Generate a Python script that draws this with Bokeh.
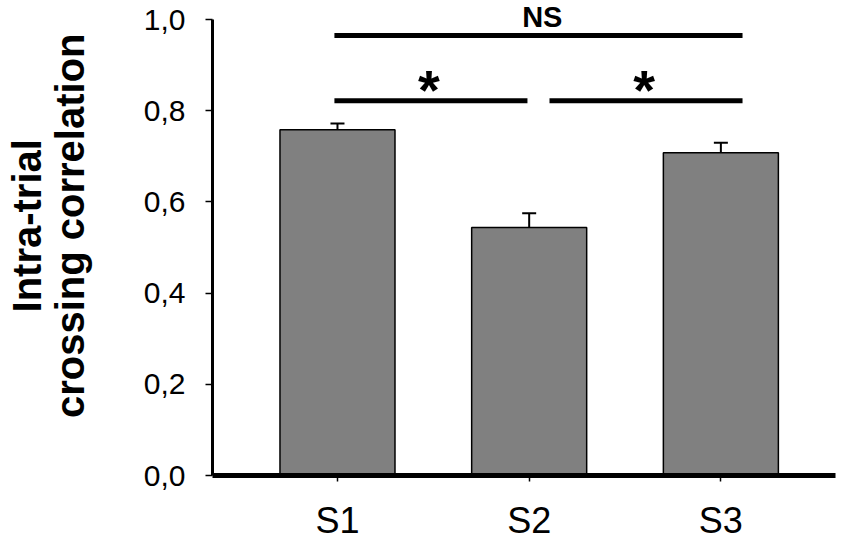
from bokeh.plotting import figure
from bokeh.layouts import row
from bokeh.models import Range1d, FixedTicker, CustomJSTickFormatter, Whisker, TeeHead, ColumnDataSource, Label
from bokeh.embed import file_html
from bokeh.resources import INLINE

categories = ["S1", "S2", "S3"]
means = [0.758, 0.544, 0.708]
sems = [0.014, 0.031, 0.022]
y_ticks = [0.0, 0.2, 0.4, 0.6, 0.8, 1.0]
y_title_lines = ["Intra-trial", "crossing correlation"]

# significance annotations: (from category index, to category index, label)
sig_pairs = [(0, 2, "NS"), (0, 1, "*"), (1, 2, "*")]

xs = [i + 1 for i in range(len(categories))]
uppers = [m + s for m, s in zip(means, sems)]

FONT = "Liberation Sans"
TITLE_W = 110
TOTAL_W, TOTAL_H = 850, 544

# ---- left strip holding the two-line y-axis title ----
pt = figure(width=TITLE_W, height=TOTAL_H, output_backend="svg", toolbar_location=None,
            x_range=Range1d(0, TITLE_W), y_range=Range1d(TOTAL_H, 0),
            x_axis_location=None, y_axis_location=None, min_border=0)
pt.outline_line_color = None
pt.grid.visible = False
for txt, xc in zip(y_title_lines, [26, 69]):
    pt.add_layout(Label(x=xc, y=258, text=txt,
                        angle=1.5707963267948966, text_align="center", text_baseline="middle",
                        text_font=FONT, text_font_style="bold", text_font_size="40px",
                        text_color="black"))

# ---- main chart ----
p = figure(width=TOTAL_W - TITLE_W, height=TOTAL_H, output_backend="svg", toolbar_location=None,
           x_range=Range1d(0.348, 3.598), y_range=Range1d(0, 1.0417),
           min_border_left=212 - TITLE_W, min_border_right=15, min_border_top=0, min_border_bottom=69)
p.outline_line_color = None
p.xgrid.visible = False
p.ygrid.visible = False
p.background_fill_color = "white"

src = ColumnDataSource(dict(x=xs, top=means, upper=uppers, cat=categories))
p.vbar(x="x", top="top", bottom=0, width=0.6, source=src,
       fill_color="#808080", line_color="black", line_width=1.5)

w = Whisker(base="x", lower="top", upper="upper", source=src,
            line_color="black", line_width=2,
            upper_head=TeeHead(size=14, line_color="black", line_width=2),
            lower_head=None)
p.add_layout(w)

# significance brackets
line_y = {"NS": 0.965, "*": 0.822}
for a, b, lab in sig_pairs:
    xa = xs[a]
    xb = xs[b]
    if lab == "NS":
        x0, x1 = xa - 0.016, xb + 0.113
        p.segment(x0=[x0], y0=[line_y[lab]], x1=[x1], y1=[line_y[lab]], line_color="black", line_width=5)
        p.add_layout(Label(x=(x0 + x1) / 2 + 0.02, y=1.005, text=lab, text_align="center",
                           text_baseline="middle", text_font=FONT, text_font_style="bold",
                           text_font_size="29px", text_color="black"))
    else:
        if a == 0:
            x0, x1 = xa - 0.016, xb - 0.009
        else:
            x0, x1 = xa + 0.106, xb + 0.113
        p.segment(x0=[x0], y0=[line_y[lab]], x1=[x1], y1=[line_y[lab]], line_color="black", line_width=5)
        p.add_layout(Label(x=(x0 + x1) / 2 - 0.01, y=0.846, text=lab, text_align="center",
                           text_baseline="middle", text_font=FONT, text_font_style="bold",
                           text_font_size="56px", text_color="black"))

# y axis
p.yaxis.ticker = FixedTicker(ticks=y_ticks)
p.yaxis.formatter = CustomJSTickFormatter(code="return tick.toFixed(1).replace('.', ',');")
p.yaxis.bounds = (0, 1)
p.yaxis.axis_line_width = 3
p.yaxis.axis_line_color = "black"
p.yaxis.major_tick_in = 0
p.yaxis.major_tick_out = 7
p.yaxis.major_tick_line_width = 1.5
p.yaxis.minor_tick_line_color = None
p.yaxis.major_label_standoff = 20
p.yaxis.major_label_text_font = FONT
p.yaxis.major_label_text_font_size = "30px"
p.yaxis.major_label_text_color = "black"

# x axis
p.xaxis.ticker = FixedTicker(ticks=xs)
p.xaxis.major_label_overrides = {x: c for x, c in zip(xs, categories)}
p.xaxis.axis_line_width = 5
p.xaxis.axis_line_color = "black"
p.xaxis.major_tick_in = 0
p.xaxis.major_tick_out = 6
p.xaxis.major_tick_line_width = 1.5
p.xaxis.minor_tick_line_color = None
p.xaxis.major_label_standoff = 18
p.xaxis.major_label_text_font = FONT
p.xaxis.major_label_text_font_size = "36px"
p.xaxis.major_label_text_color = "black"

layout = row(pt, p, spacing=0)
open("out.html", "w").write(file_html(layout, INLINE))
